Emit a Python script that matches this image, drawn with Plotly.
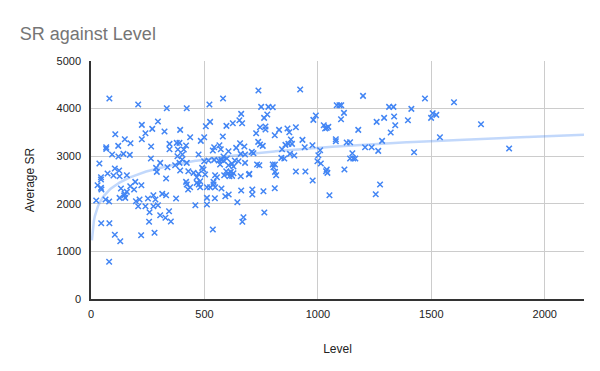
import numpy as np
import plotly.graph_objects as go

level = [81,208,334,422,522,224,295,270,240,107,393,324,149,224,174,437,499,506,484,67,
67,120,265,346,346,378,390,419,383,409,93,143,171,121,381,403,474,264,37,305,
287,337,371,390,402,422,105,124,73,44,158,126,290,393,429,452,474,496,518,331,
466,503,44,29,44,46,99,132,158,173,190,195,222,146,151,126,148,23,64,80,
198,214,251,275,284,314,331,375,419,428,437,422,466,475,511,511,511,460,208,240,
275,295,258,344,305,328,352,256,45,81,105,129,221,280,80,738,922,582,750,782,
801,662,777,763,991,980,654,666,525,625,597,745,769,769,829,903,866,874,1026,1039,
728,810,581,932,881,870,886,737,745,757,657,676,640,543,537,566,572,606,709,716,
660,679,842,857,942,976,1010,877,896,1002,839,852,584,575,563,584,599,499,543,634,
650,679,732,742,801,811,804,569,606,622,628,998,596,604,616,628,547,555,660,698,
811,816,903,945,1036,622,490,587,610,696,977,481,481,525,540,547,540,575,546,592,
607,645,662,711,711,760,810,1051,764,672,667,537,1199,1472,1083,1095,1103,1314,1333,1412,
1115,1506,1522,1499,1292,1336,1102,1259,1397,1341,1046,1032,1178,1321,1079,1079,1538,1127,1142,1283,
1208,1237,1266,1424,1152,1142,1156,1165,1013,1039,1042,1117,1274,1255,1600,1719,1843]

avg_sr = [4211,4085,4007,4007,4085,3658,3728,3574,3482,3461,3553,3518,3356,3356,3272,3398,3398,3629,3322,3188,
3154,3217,3203,3259,3146,3280,3280,3224,3140,3140,3035,3049,3028,2993,2999,3035,3035,2951,2846,2860,
2755,2768,2810,2860,2930,2860,2741,2699,2636,2558,2600,2579,2671,2699,2684,2650,2629,2720,2909,2531,
2558,2615,2510,2390,2335,2300,2594,2321,2251,2369,2300,2461,2390,2174,2125,2125,2209,2069,2090,2048,
2054,2090,2111,2180,2090,2209,2180,2111,2461,2300,2348,2405,2440,2405,2348,2125,1985,1970,1949,1949,
1949,1970,1823,1844,1760,1705,1628,1621,1592,1592,1348,1214,1340,1390,781,4379,4400,4211,4036,4036,
4028,3889,3875,3805,3854,3763,3755,3692,3721,3692,3637,3608,3623,3560,3553,3608,3581,3503,3650,3595,
3482,3440,3413,3343,3350,3259,3259,3301,3245,3217,3272,3203,3175,3188,3119,3230,3146,3104,3091,3062,
3049,3035,3146,3238,3188,3230,3125,3049,3014,3020,2965,2951,2993,2923,2909,2909,2951,2894,2923,2909,
2894,2860,2825,2810,2825,2825,2768,2825,2810,2839,2783,2894,2684,2642,2671,2642,2600,2558,2579,2629,
2671,2600,2678,2678,2684,2587,2755,2600,2579,2615,2489,2474,2348,2348,2405,2348,2461,2321,2117,2159,
2195,2033,2279,2300,2195,2264,2327,2180,1817,1718,1621,1460,4267,4211,4070,4070,4070,4036,4036,3994,
3910,3902,3868,3805,3805,3833,3776,3721,3755,3650,3616,3580,3553,3497,3356,3314,3398,3287,3293,3322,
3188,3188,3112,3083,3062,2951,2951,2951,2846,2720,2650,2720,2405,2201,4133,3671,3161]

x_ticks = [0, 500, 1000, 1500, 2000]
y_ticks = [0, 1000, 2000, 3000, 4000, 5000]
x_max = 2173

# logarithmic trendline fitted from the data
lx = np.log(np.array(level, dtype=float))
a, b = np.polyfit(lx, np.array(avg_sr, dtype=float), 1)
tx = np.linspace(4, x_max, 500)
ty = a * np.log(tx) + b

fig = go.Figure()
fig.add_trace(go.Scatter(
    x=tx, y=ty, mode="lines",
    line=dict(color="rgba(66,133,244,0.32)", width=2.5),
    hoverinfo="skip", showlegend=False))
fig.add_trace(go.Scatter(
    x=level, y=avg_sr, mode="markers",
    marker=dict(symbol="x-thin", size=5.5, color="#4285f4",
                line=dict(color="#4285f4", width=1.5)),
    showlegend=False))

fig.update_layout(
    width=600, height=371,
    margin=dict(l=91, r=16, t=61, b=72),
    paper_bgcolor="white", plot_bgcolor="white",
    font=dict(family="Arial, Liberation Sans, sans-serif", size=11, color="#222222"),
    title=dict(text="SR against Level", x=0.033, xanchor="left", y=0.91, yanchor="middle",
               font=dict(size=18, color="#757575")),
    xaxis=dict(range=[0, x_max], tickvals=x_ticks, ticktext=[str(v) for v in x_ticks],
               showgrid=True, gridcolor="#cccccc", gridwidth=1, zeroline=False,
               showline=True, linecolor="#333333", linewidth=1.5,
               ticks="", ticklabelstandoff=4,
               title=dict(text="Level", standoff=26,
                          font=dict(size=12, color="#222222"))),
    yaxis=dict(range=[0, 5000], tickvals=y_ticks, ticktext=[str(v) for v in y_ticks],
               showgrid=True, gridcolor="#cccccc", gridwidth=1, zeroline=False,
               showline=True, linecolor="#333333", linewidth=1.5,
               ticks="", ticklabelstandoff=6,
               title=dict(text="Average SR", standoff=19,
                          font=dict(size=12, color="#222222"))),
)

fig.write_html("out.html")
